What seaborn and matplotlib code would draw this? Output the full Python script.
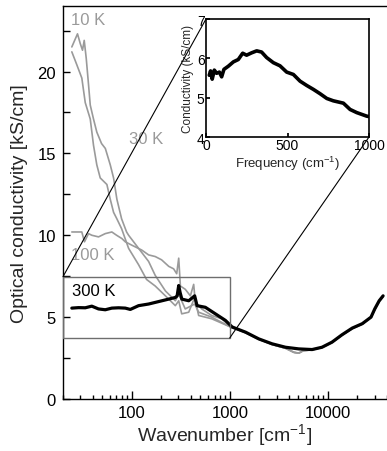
import numpy as np
import pandas as pd
import matplotlib
matplotlib.use("Agg")
import matplotlib.pyplot as plt
import seaborn as sns
from matplotlib.patches import Rectangle, ConnectionPatch
from matplotlib.ticker import MultipleLocator, FixedLocator, NullFormatter

# ---------------- data ----------------
w_300 = [24.6, 28.8, 33.7, 39.3, 46.0, 53.9, 62.9, 73.7, 86.2, 97, 117.8, 149, 188.6,
         238.7, 279, 291, 302, 312, 325, 382, 439, 464, 564, 714, 903, 1057, 1188, 1450,
         1977, 2700, 3700, 5050, 6900, 8700, 11000, 13900, 17700, 22400, 27500, 30000,
         33300, 36500]
v_300 = [5.55, 5.58, 5.57, 5.67, 5.5, 5.45, 5.55, 5.57, 5.55, 5.47, 5.7, 5.8, 5.95,
         6.1, 6.2, 6.3, 6.93, 6.5, 6.1, 6.0, 6.3, 5.7, 5.6, 5.2, 4.8, 4.4, 4.28, 4.08,
         3.67, 3.37, 3.16, 3.06, 3.02, 3.16, 3.47, 3.92, 4.33, 4.6, 5.0, 5.5,
         6.0, 6.3]

w_100 = [24.6, 31.1, 33.1, 36.4, 39.3, 46, 53.9, 62.9, 70.3, 79.5, 86.2, 100, 126.5,
         149, 174, 202, 239, 268, 288, 302, 314, 352, 397, 429, 446, 518, 654, 829, 1016]
v_100 = [10.2, 10.2, 9.6, 10.1, 10.0, 9.9, 10.1, 10.2, 10.0, 9.8, 9.6, 9.4, 9.1,
         8.8, 8.7, 8.5, 8.1, 7.95, 7.65, 8.6, 6.9, 6.7, 6.3, 7.0, 5.9, 5.5, 5.1, 4.9, 4.4]

w_10 = [24.6, 28.1, 30, 31.6, 32.9, 34.5, 36.4, 37.9, 40.9, 44.2, 49.4, 54, 60.6, 65.5,
        70.8, 79.1, 88.9, 93.2, 117.8, 149, 174, 221, 279, 302, 352, 439, 482, 654, 1016]
v_10 = [21.5, 22.3, 21.7, 21.3, 21.9, 20.8, 19.2, 17.95, 17.1, 16.3, 15.6, 15.3, 14.3, 13.5,
        12.2, 11.0, 10.2, 10.0, 9.2, 8.4, 7.55, 6.6, 6.0, 6.4, 5.5, 5.8, 5.3, 5.0, 4.4]

w_30 = [24.6, 27.7, 31.1, 33.7, 37.9, 40.9, 44.2, 47.9, 56, 60.6, 65.5, 70.8, 79.1, 93.2,
        117.8, 142, 174, 221, 279, 302, 324, 382, 439, 482, 654, 1016]
v_30 = [21.2, 20.4, 19.6, 18.1, 17.1, 15.5, 14.3, 13.5, 13.1, 12.2, 11.4, 11.0, 10.4, 9.2,
        8.2, 7.3, 6.9, 6.3, 5.7, 6.0, 5.2, 5.3, 6.2, 5.1, 4.9, 4.4]

# high-frequency part shared by the grey curves (hidden under the 300 K curve)
w_grey_tail = [1188, 1450, 1977, 2700, 3700, 4500, 5050, 5600, 6900, 8700, 11000, 13900,
               17700, 22400, 27500, 30000, 33300, 36500]
v_grey_tail = [4.25, 4.05, 3.65, 3.33, 3.1, 2.85, 2.8, 2.95, 3.0, 3.15, 3.45, 3.9,
               4.3, 4.58, 5.0, 5.45, 5.95, 6.25]

# inset
f_inset = [20, 28, 38, 51, 65, 82, 96, 110, 137, 168, 198, 225, 249, 280, 311, 341, 372,
           413, 454, 495, 536, 577, 618, 659, 700, 741, 781, 843, 884, 925, 986, 1000]
s_inset = [5.57, 5.68, 5.47, 5.70, 5.62, 5.65, 5.53, 5.72, 5.80, 5.91, 5.97, 6.13, 6.08,
           6.14, 6.19, 6.16, 6.02, 5.89, 5.81, 5.65, 5.59, 5.42, 5.31, 5.21, 5.10, 4.98,
           4.92, 4.86, 4.70, 4.62, 4.53, 4.52]

labels = ["10 K", "30 K", "100 K", "300 K"]

# ---------------- style ----------------
sns.set_theme(style="ticks")
plt.rcParams["font.family"] = ["Liberation Sans", "DejaVu Sans"]
plt.rcParams["mathtext.default"] = "regular"

GREY = "#9a9a9a"

fig = plt.figure(figsize=(3.87, 4.52), dpi=100)
ax = fig.add_axes([63 / 387, 52 / 452, 324 / 387, 393 / 452])

for w, v in [(w_10, v_10), (w_30, v_30), (w_100, v_100)]:
    df = pd.DataFrame({"w": list(w) + w_grey_tail, "v": list(v) + v_grey_tail})
    sns.lineplot(data=df, x="w", y="v", ax=ax, color=GREY, lw=1.2,
                 estimator=None, sort=False, zorder=2)

df300 = pd.DataFrame({"w": w_300, "v": v_300})
sns.lineplot(data=df300, x="w", y="v", ax=ax, color="black", lw=2.3,
             estimator=None, sort=False, zorder=3)

ax.set_xscale("log")
ax.set_xlim(20, 40000)
ax.set_ylim(0, 24)
ax.yaxis.set_major_locator(FixedLocator([0, 5, 10, 15, 20]))
ax.yaxis.set_minor_locator(MultipleLocator(2.5))
ax.xaxis.set_major_locator(FixedLocator([100, 1000, 10000]))
ax.xaxis.set_major_formatter(matplotlib.ticker.FixedFormatter(["100", "1000", "10000"]))
ax.xaxis.set_minor_locator(matplotlib.ticker.LogLocator(base=10, subs=np.arange(2, 10), numticks=20))
ax.xaxis.set_minor_formatter(NullFormatter())
ax.tick_params(axis="both", which="both", direction="in", top=False, right=False,
               labelsize=12, width=1, color="black", labelcolor="black")
ax.tick_params(axis="x", which="major", length=6, pad=4)
ax.tick_params(axis="x", which="minor", length=3)
ax.tick_params(axis="y", which="both", length=5, pad=5)
ax.spines["right"].set_visible(False)
for s in ["left", "bottom", "top"]:
    ax.spines[s].set_color("black")
    ax.spines[s].set_linewidth(1)
ax.set_xlabel("Wavenumber [cm$^{-1}$]", fontsize=14, labelpad=1)
ax.set_ylabel("Optical conductivity [kS/cm]", fontsize=14, labelpad=7)

ax.text(24, 23.2, labels[0], color=GREY, fontsize=12, va="center")
ax.text(93, 15.9, labels[1], color=GREY, fontsize=12, va="center")
ax.text(24, 8.8, labels[2], color=GREY, fontsize=12, va="center")
ax.text(24.5, 6.6, labels[3], color="black", fontsize=12, va="center")

# zoom box
ax.add_patch(Rectangle((20, 3.73), 1000 - 20, 7.47 - 3.73, fill=False,
                       edgecolor="#6e6e6e", lw=1, zorder=4))

# inset
ins = fig.add_axes([206 / 387, (452 - 138) / 452, 163 / 387, 118 / 452])
dfi = pd.DataFrame({"f": f_inset, "s": s_inset})
sns.lineplot(data=dfi, x="f", y="s", ax=ins, color="black", lw=2.6,
             estimator=None, sort=False)
ins.set_xlim(0, 1000)
ins.set_ylim(4, 7)
ins.set_xticks([0, 500, 1000])
ins.set_yticks([4, 5, 6, 7])
ins.tick_params(direction="in", length=3, labelsize=10, pad=1, color="black",
                labelcolor="black")
for s in ins.spines.values():
    s.set_color("black")
    s.set_linewidth(1.2)
ins.set_xlabel("Frequency (cm$^{-1}$)", fontsize=9.5, labelpad=1)
ins.set_ylabel("Conductivity (kS/cm)", fontsize=8.5, labelpad=2)

# connector lines
c1 = ConnectionPatch(xyA=(20, 7.47), coordsA=ax.transData, xyB=(0, 1),
                     coordsB=ins.transAxes, color="black", lw=0.8)
c2 = ConnectionPatch(xyA=(1000, 3.73), coordsA=ax.transData, xyB=(1, 0),
                     coordsB=ins.transAxes, color="black", lw=0.8)
fig.add_artist(c1)
fig.add_artist(c2)

fig.savefig("out.png", dpi=100)
